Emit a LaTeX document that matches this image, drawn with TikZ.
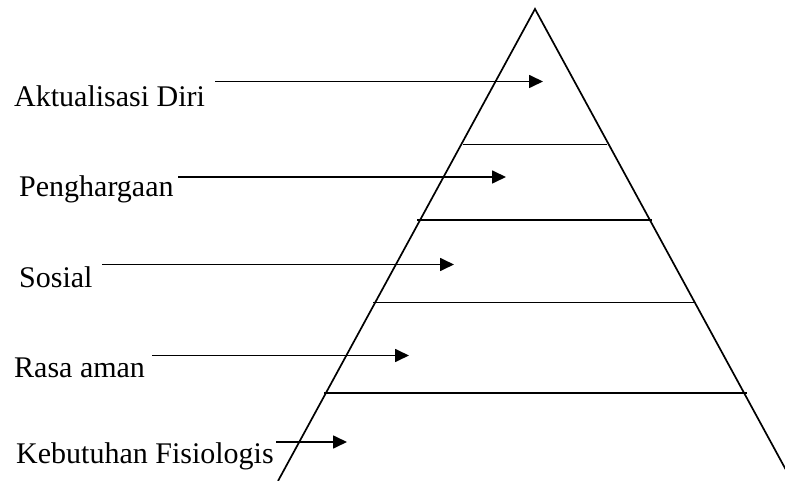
\documentclass[tikz,border=0pt]{standalone}
\usepackage{fontspec}
\setmainfont{Liberation Serif}
\usetikzlibrary{arrows.meta}
\begin{document}
\begin{tikzpicture}[x=1pt,y=-1pt,
  lbl/.style={anchor=base west,inner sep=0pt,font=\fontsize{30}{36}\selectfont},
  ln/.style={line width=1.7pt},
  arr/.style={line width=1.7pt,-{Triangle[length=14pt,width=13pt]}}]
\useasboundingbox (0,0) rectangle (785,481);
\clip (0,0) rectangle (785,481);
% pyramid
\coordinate (apex) at (535,9);
\coordinate (bl) at (278,481);
\coordinate (br) at (792,481);
\draw[ln] (bl) -- (apex) -- (br);
\coordinate (l1a) at (463,144.5); \coordinate (l1b) at (607,144.5);
\coordinate (l2a) at (417,220);   \coordinate (l2b) at (652,220);
\coordinate (l3a) at (373,302.5); \coordinate (l3b) at (694,302.5);
\coordinate (l4a) at (324,393);   \coordinate (l4b) at (747,393);
\draw[ln] (l1a) -- (l1b);
\draw[ln] (l2a) -- (l2b);
\draw[ln] (l3a) -- (l3b);
\draw[ln] (l4a) -- (l4b);
% labels
\node[lbl] (t1) at (14,107) {Aktualisasi Diri};
\node[lbl] (t2) at (19,196.5) {Penghargaan};
\node[lbl] (t3) at (19,288) {Sosial};
\node[lbl] (t4) at (14,377) {Rasa aman};
\node[lbl] (t5) at (16,463) {Kebutuhan Fisiologis};
% arrows
\coordinate (a1s) at (215,81.5); \coordinate (a1e) at (543,81.5);
\coordinate (a2s) at (178,177);  \coordinate (a2e) at (506,177);
\coordinate (a3s) at (102,264.5);\coordinate (a3e) at (454,264.5);
\coordinate (a4s) at (152,355.5);\coordinate (a4e) at (409,355.5);
\coordinate (a5s) at (276,442);  \coordinate (a5e) at (347,442);
\draw[arr] (a1s) -- (a1e);
\draw[arr] (a2s) -- (a2e);
\draw[arr] (a3s) -- (a3e);
\draw[arr] (a4s) -- (a4e);
\draw[arr] (a5s) -- (a5e);
\end{tikzpicture}
\end{document}
